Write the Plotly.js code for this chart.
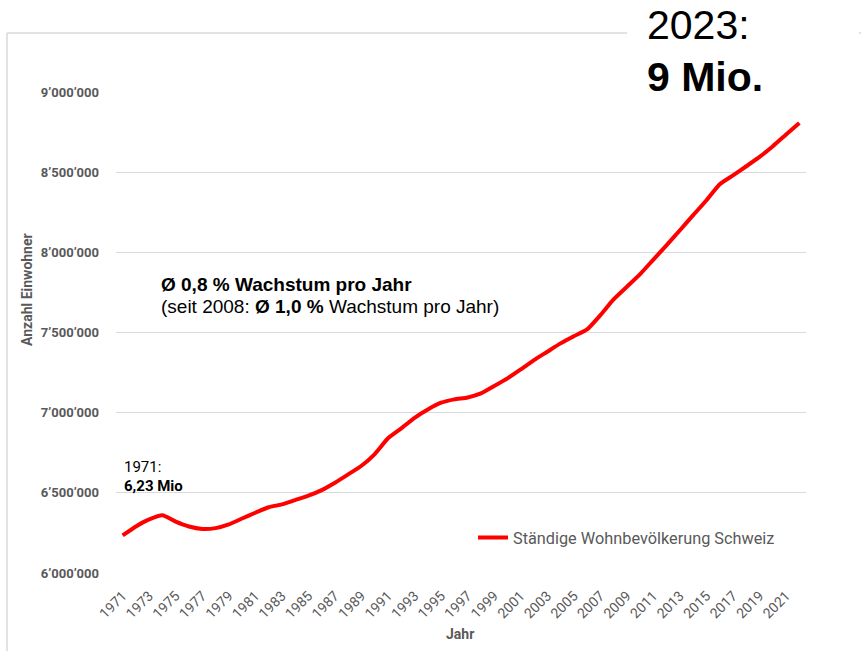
<!DOCTYPE html>
<html>
<head>
<meta charset="utf-8">
<script src="https://cdn.plot.ly/plotly-3.0.1.min.js"></script>
<style>
html,body{margin:0;padding:0;background:#fff;}
#chart{width:861px;height:651px;}
</style>
</head>
<body>
<div id="chart"></div>
<script>
// ---- data ----
const years = [1971,1972,1973,1974,1975,1976,1977,1978,1979,1980,
  1981,1982,1983,1984,1985,1986,1987,1988,1989,1990,
  1991,1992,1993,1994,1995,1996,1997,1998,1999,2000,
  2001,2002,2003,2004,2005,2006,2007,2008,2009,2010,
  2011,2012,2013,2014,2015,2016,2017,2018,2019,2020,
  2021,2022];
const population = [6234000,6290000,6334000,6360000,6320000,6290000,6275000,6280000,6303000,6340000,
  6376000,6410000,6428000,6455000,6482000,6517000,6563000,6615000,6669000,6742000,
  6840000,6902000,6968000,7020000,7062000,7083000,7095000,7120000,7166000,7214000,
  7270000,7328000,7380000,7432000,7477000,7519000,7608000,7706000,7785000,7864000,
  7955000,8045000,8138000,8232000,8325000,8425000,8480000,8537000,8595000,8662000,
  8735000,8807000];
const seriesName = "Ständige Wohnbevölkerung Schweiz";
const yTickVals = [6000000,6500000,7000000,7500000,8000000,8500000,9000000];
const yTickText = ["6’000’000","6’500’000","7’000’000","7’500’000","8’000’000","8’500’000","9’000’000"];
const xTickVals = [1971,1973,1975,1977,1979,1981,1983,1985,1987,1989,1991,1993,1995,1997,1999,
  2001,2003,2005,2007,2009,2011,2013,2015,2017,2019,2021];

// ---- layout geometry ----
const W = 861, H = 651;
const M = {l:116, r:55, t:92, b:78};
const pw = W - M.l - M.r, ph = H - M.t - M.b;
const px = x => (x - M.l) / pw;
const py = y => (H - M.b - y) / ph;

const gray = "#595959";
const frameCol = "#d9d9d9";

const trace = {
  x: years, y: population, type: "scatter", mode: "lines",
  name: seriesName,
  line: {color: "#ff0000", width: 4, shape: "spline", smoothing: 0.5},
  hoverinfo: "skip"
};

const txt = (x, y, text, size, family, color, extra) => Object.assign({
  xref: "paper", yref: "paper", x: px(x), y: py(y), xanchor: "left", yanchor: "middle", align: "left",
  text: text, showarrow: false, font: {family: family, size: size, color: color}
}, extra || {});

const layout = {
  width: W, height: H,
  margin: M,
  paper_bgcolor: "#fff", plot_bgcolor: "#fff",
  showlegend: true,
  font: {family: "Roboto, sans-serif", color: gray},
  xaxis: {
    range: [1970.5, 2022.5],
    tickvals: xTickVals,
    tickangle: -45,
    showgrid: false, zeroline: false, showline: false,
    ticks: "",
    ticklabelstandoff: 11,
    tickfont: {family: "Roboto", size: 14, color: gray}
  },
  yaxis: {
    range: [6000000, 9000000],
    tickvals: yTickVals, ticktext: yTickText,
    showgrid: true, gridcolor: frameCol, gridwidth: 1,
    zeroline: false, showline: false, ticks: "",
    ticklabelstandoff: 16,
    tickfont: {family: "Roboto", size: 13, color: gray, weight: "bold"}
  },
  legend: {
    x: px(473), xanchor: "left",
    y: py(538), yanchor: "middle",
    bgcolor: "rgba(0,0,0,0)",
    font: {family: "Roboto", size: 16.3, color: gray},
    itemwidth: 30
  },
  shapes: [
    {type: "line", xref: "paper", yref: "paper", x0: px(7), x1: px(627), y0: py(33), y1: py(33), line: {color: frameCol, width: 1.5}},
    {type: "line", xref: "paper", yref: "paper", x0: px(859), x1: px(861), y0: py(33), y1: py(33), line: {color: frameCol, width: 1.5}},
    {type: "line", xref: "paper", yref: "paper", x0: px(7), x1: px(7), y0: py(33), y1: py(651), line: {color: frameCol, width: 1.5}}
  ],
  annotations: [
    txt(27, 290, "<b>Anzahl Einwohner</b>", 14, "Roboto", gray, {textangle: -90, xanchor: "center", align: "center"}),
    txt(460, 634, "<b>Jahr</b>", 14, "Roboto", gray, {xanchor: "center", align: "center"}),
    txt(122, 467, "1971:", 15, "Roboto", "#000"),
    txt(122, 486, "<b>6,23 Mio</b>", 15, "Roboto", "#000"),
    txt(159, 284, "<b>Ø 0,8 % Wachstum pro Jahr</b>", 19, "Liberation Sans, Arial", "#000"),
    txt(159, 306, "(seit 2008: <b>Ø 1,0 %</b> Wachstum pro Jahr)", 19, "Liberation Sans, Arial", "#000"),
    txt(645, 25, "2023:", 41, "Liberation Sans, Arial", "#000"),
    txt(645, 77, "<b>9 Mio.</b>", 41, "Liberation Sans, Arial", "#000")
  ]
};

Plotly.newPlot("chart", [trace], layout, {displayModeBar: false, staticPlot: true});
</script>
</body>
</html>
